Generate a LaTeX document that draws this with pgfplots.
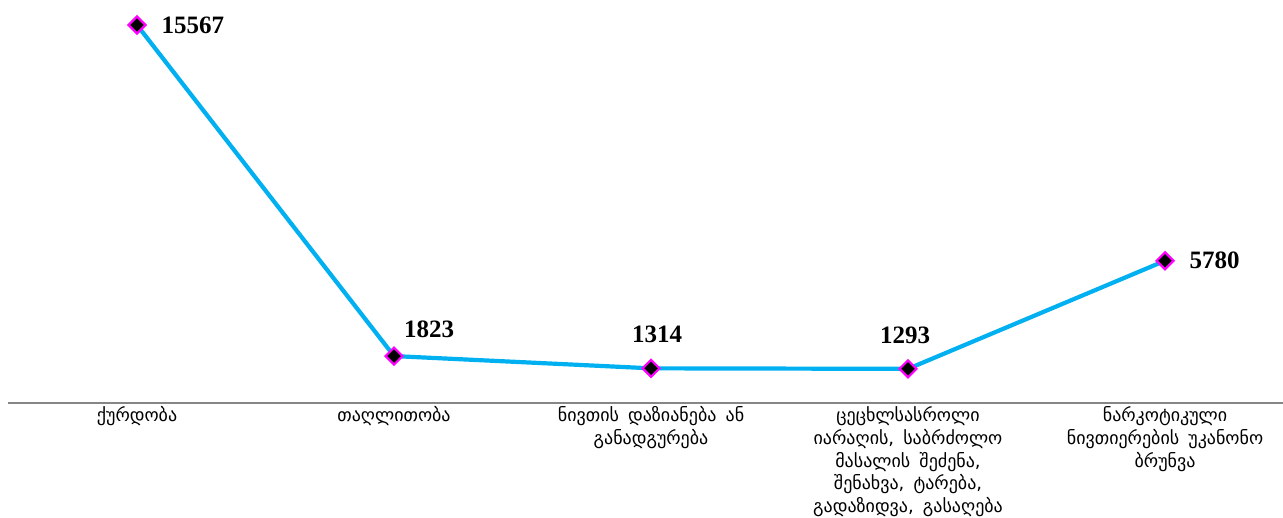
\documentclass[border=0pt]{standalone}
\usepackage{fontspec}
\setmainfont{Liberation Serif}
\newfontfamily\geo[Script=Georgian,WordSpace=1.6]{DejaVu Sans}
\usepackage{pgfplots}
\pgfplotsset{compat=1.18}
\definecolor{linecyan}{HTML}{00B0F0}
\definecolor{mk}{HTML}{FF00FF}
\definecolor{axgray}{HTML}{868686}

\begin{document}
\begin{tikzpicture}
\path[use as bounding box] (-8pt,-115pt) rectangle (1275pt,403pt);
\begin{axis}[
    scale only axis,
    width=1275pt, height=403pt,
    xmin=-0.502, xmax=4.459,
    ymin=-125, ymax=16606,
    axis x line*=bottom,
    hide y axis,
    x axis line style={axgray, line width=1.3pt},
    xtick={0,1,2,3,4},
    major tick length=0pt,
    xticklabels={
        {ქურდობა},
        {თაღლითობა},
        {ნივთის დაზიანება ან\\განადგურება},
        {ცეცხლსასროლი\\იარაღის, საბრძოლო\\მასალის შეძენა,\\შენახვა, ტარება,\\გადაზიდვა, გასაღება},
        {ნარკოტიკული\\ნივთიერების უკანონო\\ბრუნვა}},
    xticklabel style={align=center, font=\geo\fontsize{18}{22.8}\selectfont, anchor=north, yshift=0pt},
    /pgf/number format/1000 sep={},
    /pgf/number format/assume math mode=true,
    clip=false,
]
\addplot[linecyan, line width=4.2pt, mark=square*,
    mark options={fill=black, draw=mk, line width=2.2pt, rotate=45}, mark size=6pt]
    coordinates {(0,15567) (1,1823) (2,1314) (3,1293) (4,5780)};
% value labels
\addplot[draw=none, no marks, nodes near coords,
    every node near coord/.style={anchor=west, xshift=21pt, font=\bfseries\fontsize{25}{26}\selectfont}]
    coordinates {(0,15567) (4,5780)};
\addplot[draw=none, no marks, nodes near coords,
    every node near coord/.style={anchor=south, xshift=35pt, yshift=15pt, font=\bfseries\fontsize{25}{26}\selectfont}]
    coordinates {(1,1823)};
\addplot[draw=none, no marks, nodes near coords,
    every node near coord/.style={anchor=south, xshift=6pt, yshift=22pt, font=\bfseries\fontsize{25}{26}\selectfont}]
    coordinates {(2,1314)};
\addplot[draw=none, no marks, nodes near coords,
    every node near coord/.style={anchor=south, xshift=-3pt, yshift=22pt, font=\bfseries\fontsize{25}{26}\selectfont}]
    coordinates {(3,1293)};
\end{axis}
\end{tikzpicture}
\end{document}
